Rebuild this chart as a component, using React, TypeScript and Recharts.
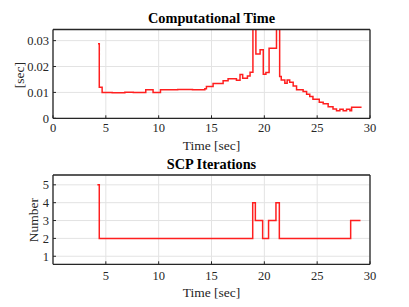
import { LineChart, Line, XAxis, YAxis, CartesianGrid } from 'recharts';

const compTimeT = [4.26, 4.38, 4.65, 5.6, 6.8, 7.6, 8.78, 9.47, 10.17, 11.8, 13.2, 14.1, 14.37, 14.52, 15.15, 16.1, 16.57, 17.36, 17.7, 17.95, 18.4, 18.65, 18.92, 19.2, 19.6, 19.9, 20.15, 20.45, 21.15, 21.45, 21.6, 21.94, 22.16, 22.4, 22.73, 23.05, 23.67, 24.0, 24.3, 24.6, 25.2, 25.57, 26.04, 26.5, 26.83, 27.15, 27.46, 27.78, 28.1, 28.26, 29.2];
const compTimeV = [0.0288, 0.012, 0.01, 0.0099, 0.0101, 0.01, 0.011, 0.01, 0.011, 0.0111, 0.011, 0.011, 0.0114, 0.0123, 0.0134, 0.0145, 0.0153, 0.0147, 0.0169, 0.0155, 0.0163, 0.0178, 0.05, 0.0248, 0.0265, 0.017, 0.0177, 0.0271, 0.05, 0.0161, 0.0148, 0.0135, 0.0148, 0.0139, 0.0125, 0.011, 0.0104, 0.0093, 0.0084, 0.0074, 0.0062, 0.0056, 0.0045, 0.0036, 0.0029, 0.0035, 0.0029, 0.0035, 0.0029, 0.0043, 0.0043];

const iterT = [4.2, 4.38, 18.9, 19.15, 19.84, 20.4, 21.1, 21.42, 28.17, 29.1];
const iterN = [5, 2, 4, 3, 2, 3, 4, 2, 3, 3];

const topXTicks = [0, 5, 10, 15, 20, 25, 30];
const bottomXTicks = [5, 10, 15, 20, 25, 30];
const topYTicks = [0, 0.01, 0.02, 0.03];
const bottomYTicks = [1, 2, 3, 4, 5];

const compData = compTimeT.map((t, i) => ({ t, v: compTimeV[i] }));
const iterData = iterT.map((t, i) => ({ t, n: iterN[i] }));

const FONT = '"Liberation Serif", "Times New Roman", serif';
const DARK = '#262626';
const RED = '#ff1f1f';
const tickStyle = { fill: DARK, fontSize: 12.5, fontFamily: FONT };
const lineStyle = { stroke: DARK, strokeWidth: 1 };

// MATLAB-style box: extra top/right axes with inward ticks (negative tickSize)
function boxAxes(xDomain: number[], xTicks: number[], yDomain: number[], yTicks: number[]) {
  return [
    <XAxis key="xt" xAxisId="top" orientation="top" height={1} type="number" domain={xDomain} ticks={xTicks}
      interval={0} allowDataOverflow tick={false} tickSize={-3} tickLine={lineStyle} stroke={DARK} strokeWidth={1.3} />,
    <YAxis key="yr" yAxisId="right" orientation="right" width={1} type="number" domain={yDomain} ticks={yTicks}
      interval={0} allowDataOverflow tick={false} tickSize={-3} tickLine={lineStyle} stroke={DARK} strokeWidth={1.3} />,
  ];
}

export default function App() {
  return (
    <div style={{ position: 'absolute', left: 0, top: 0, width: 409, height: 307, background: '#fff', fontFamily: FONT }}>
      <div style={{ position: 'absolute', left: 0, top: 0 }}>
        <LineChart width={409} height={150} data={compData} margin={{ top: 28.5, right: 38, bottom: 11.7, left: 13 }}>
          <CartesianGrid stroke="#e3e3e3" strokeWidth={1} />
          <XAxis dataKey="t" type="number" domain={[0, 30]} ticks={topXTicks} allowDataOverflow height={20} interval={0}
            tickSize={-3} tickMargin={8} tick={tickStyle} tickLine={lineStyle} stroke={DARK} strokeWidth={1.3} />
          <YAxis type="number" domain={[0, 0.0343]} ticks={topYTicks} allowDataOverflow width={40} interval={0}
            tickSize={-3} tickMargin={7} tick={tickStyle} tickLine={lineStyle} stroke={DARK} strokeWidth={1.3} />
          {boxAxes([0, 30], topXTicks, [0, 0.0343], topYTicks)}
          <Line dataKey="v" type="stepAfter" stroke={RED} strokeWidth={1.5} dot={false} isAnimationActive={false} />
        </LineChart>
      </div>
      <div style={{ position: 'absolute', left: 0, top: 150 }}>
        <LineChart width={409} height={157} data={iterData} margin={{ top: 24, right: 38, bottom: 22.7, left: 13 }}>
          <CartesianGrid stroke="#e3e3e3" strokeWidth={1} />
          <XAxis dataKey="t" type="number" domain={[0, 30]} ticks={bottomXTicks} allowDataOverflow height={20} interval={0}
            tickSize={-3} tickMargin={10} tick={tickStyle} tickLine={lineStyle} stroke={DARK} strokeWidth={1.3} />
          <YAxis type="number" domain={[0.55, 5.55]} ticks={bottomYTicks} allowDataOverflow width={40} interval={0}
            tickSize={-3} tickMargin={7} tick={tickStyle} tickLine={lineStyle} stroke={DARK} strokeWidth={1.3} />
          {boxAxes([0, 30], bottomXTicks, [0.55, 5.55], bottomYTicks)}
          <Line dataKey="n" type="stepAfter" stroke={RED} strokeWidth={1.5} dot={false} isAnimationActive={false} />
        </LineChart>
      </div>
      <svg width={409} height={307} style={{ position: 'absolute', left: 0, top: 0, pointerEvents: 'none' }}>
        <g fontFamily={FONT} fill="#000" textAnchor="middle" dominantBaseline="central">
          <text x={211.5} y={18} fontSize={14.3} fontWeight="bold">Computational Time</text>
          <text x={211.5} y={145.5} fontSize={13.5} fill={DARK}>Time [sec]</text>
          <text x={19} y={75} fontSize={13.5} fill={DARK} transform="rotate(-90 19 75)">[sec]</text>
          <text x={211.5} y={164} fontSize={14.3} fontWeight="bold">SCP Iterations</text>
          <text x={211.5} y={292.5} fontSize={13.5} fill={DARK}>Time [sec]</text>
          <text x={33} y={220} fontSize={13.5} fill={DARK} transform="rotate(-90 33 220)">Number</text>
        </g>
      </svg>
    </div>
  );
}
